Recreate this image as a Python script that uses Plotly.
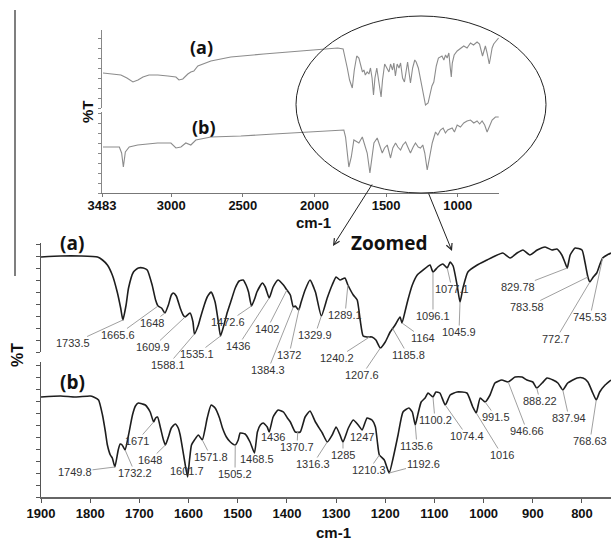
import numpy as np
import plotly.graph_objects as go

W, H = 611, 542

# ---------------- data ----------------
# Zoomed spectrum (a)
A_WN = [1900,1860,1820,1785,1775,1765,1755,1745,1738,1733.5,
        1727,1722,1712,1702,1692,1684,1674,1667,1662,1655,
        1648,1641,1635,1631,1625,1617,1611,1607,1597,1591,
        1588,1580,1576,1568,1562,1554,1546,1540,1535,1528,
        1521,1513,1505,1497,1489,1483,1478,1472,1465,1461,
        1450,1444,1436,1428,1418,1407,1400,1393,1387,1383,
        1376,1371,1363,1353,1342,1330,1318,1308,1300,1292,
        1282,1276,1265,1257,1251,1245,1237,1227,1219,1210,
        1200,1190,1180,1170,1166,1160,1154,1145,1135,1123,
        1109,1103,1093,1083,1074,1068,1062,1054,1048,1042,
        1032,1013,993,981,961,946,932,920,906,891,
        875,861,851,841,835,830,824,814,800,794,
        788,784,777,770,764,758,749,741]
A_T = [95,96,96,95,92,87,77,60,44,32,
       47,64,80,84,84,82,67,52,46,44,
       39,47,57,59,56,44,37,35,39,30,
       18,27,34,47,55,60,50,32,16,27,
       40,52,64,71,72,67,60,46,54,60,
       69,65,54,65,72,67,62,57,45,46,
       42,50,62,72,60,36,54,67,75,72,
       74,67,57,52,32,16,15,15,12,4,
       10,20,27,35,29,40,52,67,77,82,
       87,80,85,88,84,90,86,67,50,64,
       80,87,92,95,99,94,99,102,97,102,
       105,102,103,97,90,84,97,104,102,90,
       75,70,75,79,87,94,97,99]

# Zoomed spectrum (b)
B_WN = [1900,1860,1830,1800,1793,1783,1775,1769,1765,1759,
        1755,1749.8,1743,1739,1735,1729,1722,1714,1708,1702,
        1694,1688,1678,1671,1667,1663,1657,1651,1647,1641,
        1635,1627,1621,1617,1609,1602,1598,1594,1588,1580,
        1572,1566,1562,1554,1546,1537,1531,1523,1515,1505,
        1499,1495,1485,1475,1466,1460,1454,1448,1440,1436,
        1428,1418,1407,1399,1393,1383,1373,1363,1353,1342,
        1328,1318,1308,1300,1292,1286,1275,1265,1255,1247,
        1237,1227,1220,1216,1212,1202,1192,1184,1174,1164,
        1152,1145,1139,1133,1127,1119,1113,1103,1097,1089,
        1078,1068,1054,1034,1022,1015,1007,997,987,977,
        963,950,936,922,912,900,892,881,871,859,
        849,839,829,810,798,788,778,771,764,753,
        741]
B_T = [100,101,100,101,100,97,82,65,52,42,
       39,30,47,53,52,47,62,82,91,94,
       93,92,85,75,79,80,69,57,52,60,
       69,73,69,62,39,20,37,52,57,62,
       57,69,79,92,89,79,69,60,55,52,
       57,64,63,55,44,65,72,74,70,65,
       80,87,85,79,75,65,65,80,86,75,
       64,55,62,70,62,55,69,77,72,67,
       79,77,70,55,42,37,24,39,62,85,
       89,85,72,84,95,99,104,100,105,104,
       92,102,105,104,90,84,99,95,102,114,
       117,115,120,120,117,115,109,114,119,117,
       114,107,114,119,119,115,104,97,105,112,
       117]

# Full-range inset spectrum (a)
IA_WN = [3476,3420,3351,3309,3267,3232,3197,3155,3093,3023,
         2967,2946,2919,2884,2863,2842,2814,2723,2584,2354,
         2117,1957,1838,1800,1785,1771,1755,1736,1722,1705,
         1690,1678,1665,1655,1645,1632,1620,1609,1598,1588,
         1578,1565,1551,1535,1525,1510,1495,1480,1469,1455,
         1446,1435,1423,1410,1399,1385,1372,1360,1350,1330,
         1315,1300,1290,1275,1260,1245,1225,1207,1195,1180,
         1167,1150,1135,1110,1097,1085,1074,1062,1052,1045,
         1038,1025,1004,985,958,935,911,890,865,848,
         835,827,815,807,795,786,780,772,760,749,
         730,715]
IA_T = [35,34,33,30,26,28,31,33,33,32,
        31,28,29,34,36,37,42,47,51,54,
        57,59,60,59,50,40,28,20,38,52,
        50,44,36,38,33,36,34,40,30,13,
        30,40,25,11,28,44,40,36,44,38,
        45,32,44,40,45,30,26,40,46,25,
        40,48,46,40,28,16,3,5,14,22,
        26,42,50,52,48,53,50,55,40,31,
        45,53,57,59,62,60,65,63,66,64,
        58,52,58,62,55,46,44,50,60,64,
        68,70]

# Full-range inset spectrum (b)
IB_WN = [3476,3362,3346,3334,3320,3293,3234,3095,3002,2967,
         2932,2898,2863,2828,2723,2514,2282,2049,1795,1783,
         1771,1760,1743,1725,1701,1690,1666,1648,1632,1613,
         1597,1585,1562,1544,1527,1511,1492,1469,1453,1434,
         1418,1399,1383,1364,1348,1330,1311,1295,1276,1260,
         1244,1230,1213,1197,1178,1155,1139,1121,1102,1086,
         1070,1039,1023,1004,981,958,935,911,888,865,
         847,830,812,795,777,760,737,714]
IB_T = [46,46,40,26,41,46,48,50,50,45,
        46,50,48,53,56,57,59,61,63,56,
        40,26,36,53,51,50,56,48,40,20,
        40,50,55,48,40,45,48,35,45,50,
        46,43,48,51,45,40,46,50,46,45,
        48,40,23,36,50,61,58,63,65,60,
        63,65,61,68,66,70,72,73,70,72,
        69,72,68,61,68,73,76,76]

# Peak labels: text and the wavenumber the leader line points to
A_LABELS = ["1733.5","1665.6","1648","1609.9","1588.1","1535.1","1472.6","1436",
            "1402","1384.3","1372","1329.9","1289.1","1240.2","1207.6","1185.8",
            "1164","1096.1","1077.1","1045.9","829.78","783.58","772.7","745.53"]
A_LABEL_AT = [1733.5,1662,1648,1607,1588,1535,1472,1436,
              1400,1387,1375,1330,1276,1232,1210,1185,
              1166,1103,1074,1048,830,788,784,758]
B_LABELS = ["1749.8","1732.2","1671","1648","1601.7","1571.8","1505.2","1468.5",
            "1436","1370.7","1316.3","1285","1247","1210.3","1192.6","1135.6",
            "1100.2","1074.4","1016","991.5","946.66","888.22","837.94","768.63"]
B_LABEL_AT = [1749.8,1729,1671,1647,1602,1572,1505,1466,
              1436,1378,1318,1286,1247,1212,1192,1139,
              1103,1078,1015,997,950,892,839,771]

MAIN_TICKS = [1900,1800,1700,1600,1500,1400,1300,1200,1100,1000,900,800]
INSET_TICKS = [3483,3000,2500,2000,1500,1000]

# ---------------- layout geometry (pixels) ----------------
MX0, MX1 = 41, 611          # main plot x extent
MXR = (1900, 741)
A_PY = (243, 352); A_R = (0, 109)
B_PY = (362, 497); B_R = (0, 135)
IX0, IX1 = 102, 499
IXR = (3483, 712)
IA_PY = (30, 108); IA_R = (0, 78)
IB_PY = (112, 193); IB_R = (0, 81)

def fx(px): return px / W
def fy(py): return 1 - py / H

def mx(wn):
    return MX0 + (MXR[0] - wn) / (MXR[0] - MXR[1]) * (MX1 - MX0)

def my(v, pyr, r):
    return pyr[1] - (v - r[0]) / (r[1] - r[0]) * (pyr[1] - pyr[0])

FONT = "Liberation Sans, Arial, sans-serif"
CAL = "Open Sans, Lato, sans-serif"

fig = go.Figure()
fig.add_trace(go.Scatter(x=A_WN, y=A_T, xaxis="x", yaxis="y3", mode="lines",
                         line=dict(color="#1e1e1e", width=1.6, shape="spline", smoothing=0.5)))
fig.add_trace(go.Scatter(x=B_WN, y=B_T, xaxis="x", yaxis="y", mode="lines",
                         line=dict(color="#1e1e1e", width=1.6, shape="spline", smoothing=0.5)))
fig.add_trace(go.Scatter(x=IA_WN, y=IA_T, xaxis="x2", yaxis="y4", mode="lines",
                         line=dict(color="#8c8c8c", width=1.1)))
fig.add_trace(go.Scatter(x=IB_WN, y=IB_T, xaxis="x2", yaxis="y2", mode="lines",
                         line=dict(color="#8c8c8c", width=1.1)))

yax_common = dict(showticklabels=False, showgrid=False, zeroline=False, showline=True,
                  linecolor="#555", linewidth=1.3, ticks="outside", ticklen=4,
                  tickcolor="#555", fixedrange=True, automargin=False)

fig.update_layout(
    width=W, height=H, autosize=False,
    margin=dict(l=0, r=0, t=0, b=0, pad=0, autoexpand=False),
    paper_bgcolor="white", plot_bgcolor="rgba(0,0,0,0)",
    showlegend=False,
    xaxis=dict(domain=[fx(MX0), fx(MX1)], range=list(MXR), anchor="y", automargin=False,
               tickvals=MAIN_TICKS, ticktext=[str(t) for t in MAIN_TICKS],
               tickfont=dict(family=FONT, size=13, color="#111", weight="bold"),
               showgrid=False, zeroline=False, showline=True, linecolor="#666",
               linewidth=1.5, ticks="outside", ticklen=4, tickcolor="#555"),
    yaxis=dict(domain=[fy(B_PY[1]), fy(B_PY[0])], range=list(B_R), anchor="x",
               dtick=12, tick0=0, **yax_common),
    yaxis3=dict(domain=[fy(A_PY[1]), fy(A_PY[0])], range=list(A_R), anchor="x",
                dtick=12, tick0=0, **yax_common),
    xaxis2=dict(domain=[fx(IX0), fx(IX1)], range=list(IXR), anchor="y2", automargin=False,
                tickvals=INSET_TICKS, ticktext=[str(t) for t in INSET_TICKS],
                tickfont=dict(family=FONT, size=13, color="#111", weight="bold"),
                ticklabelstandoff=-3,
                showgrid=False, zeroline=False, showline=True, linecolor="#777",
                linewidth=1.3, ticks="outside", ticklen=3, tickcolor="#777"),
    yaxis2=dict(domain=[fy(IB_PY[1]), fy(IB_PY[0])], range=list(IB_R), anchor="x2",
                dtick=10, tick0=0, **{**yax_common, "linecolor": "#888", "tickcolor": "#888", "ticklen": 3}),
    yaxis4=dict(domain=[fy(IA_PY[1]), fy(IA_PY[0])], range=list(IA_R), anchor="x2",
                dtick=10, tick0=0, **{**yax_common, "linecolor": "#888", "tickcolor": "#888", "ticklen": 3}),
)

ann = []

def txt(text, px, py, size, family=FONT, bold=True, angle=0, color="#111"):
    ann.append(dict(text=text, x=fx(px), y=fy(py), xref="paper", yref="paper",
                    showarrow=False, xanchor="center", yanchor="middle", textangle=angle,
                    font=dict(family=family, size=size, color=color,
                              weight="bold" if bold else "normal")))

txt("(a)", 72, 243, 19, CAL)
txt("(b)", 72, 382, 19, CAL)
txt("(a)", 201, 47, 18, CAL)
txt("(b)", 204, 127, 18, CAL)
txt("Zoomed", 389, 243, 19, CAL)
txt("%T", 17, 355, 16, angle=-90)
txt("%T", 88, 112, 15, angle=-90)
txt("cm-1", 333, 532, 15)
txt("cm-1", 313, 222, 15)

# label text centres (pixels)
A_TXT = [(73,343),(118,335),(152,323),(153,347),(168,365),(197,354),(228,322),(238,346),
         (267,329),(268,370),(289,355),(315,335),(345,315),(337,358),(362,375),(408,355),
         (423,338),(433,316),(452,289),(459,332),(518,287),(527,307),(556,339),(590,317)]
B_TXT = [(75,472),(135,473),(137,441),(150,460),(187,471),(211,457),(235,474),(257,459),
         (273,437),(297,447),(313,464),(343,455),(362,437),(369,470),(423,464),(417,446),
         (435,420),(467,436),(502,455),(496,417),(527,431),(540,401),(569,418),(590,441)]

def peak_labels(labels, at, pos, wn, t, yref, pyr, r):
    xs = np.array(wn, float)[::-1]
    ys = np.array(t, float)[::-1]
    for lab, w, (cx, cy) in zip(labels, at, pos):
        v = float(np.interp(w, xs, ys))
        hx, hy = mx(w), my(v, pyr, r)
        ann.append(dict(text=lab, x=w, y=v, xref="x", yref=yref,
                        showarrow=True, arrowhead=0, arrowwidth=1, arrowcolor="#a0a0a0",
                        ax=cx - hx, ay=cy - hy, standoff=0, borderpad=0,
                        font=dict(family=FONT, size=11, color="#333")))

peak_labels(A_LABELS, A_LABEL_AT, A_TXT, A_WN, A_T, "y3", A_PY, A_R)
peak_labels(B_LABELS, B_LABEL_AT, B_TXT, B_WN, B_T, "y", B_PY, B_R)

# zoom arrows
for (hx, hy), (tx, ty) in [((333, 246), (373, 183)), ((452, 251), (428, 192))]:
    ann.append(dict(text="", x=fx(hx), y=fy(hy), xref="paper", yref="paper",
                    showarrow=True, arrowhead=5, arrowsize=1.2, arrowwidth=1,
                    arrowcolor="#222", ax=tx - hx, ay=ty - hy))

fig.update_layout(annotations=ann)

fig.update_layout(shapes=[
    dict(type="circle", xref="paper", yref="paper",
         x0=fx(296), x1=fx(546), y0=fy(193), y1=fy(16),
         line=dict(color="#222", width=1)),
    dict(type="line", xref="paper", yref="paper",
         x0=fx(15), x1=fx(15), y0=fy(10), y1=fy(276),
         line=dict(color="#555", width=1.5)),
])

fig.write_html(
    "out.html",
    config={"responsive": False, "displayModeBar": False},
    post_script="document.body.style.margin='0';document.body.style.overflow='hidden';",
)
